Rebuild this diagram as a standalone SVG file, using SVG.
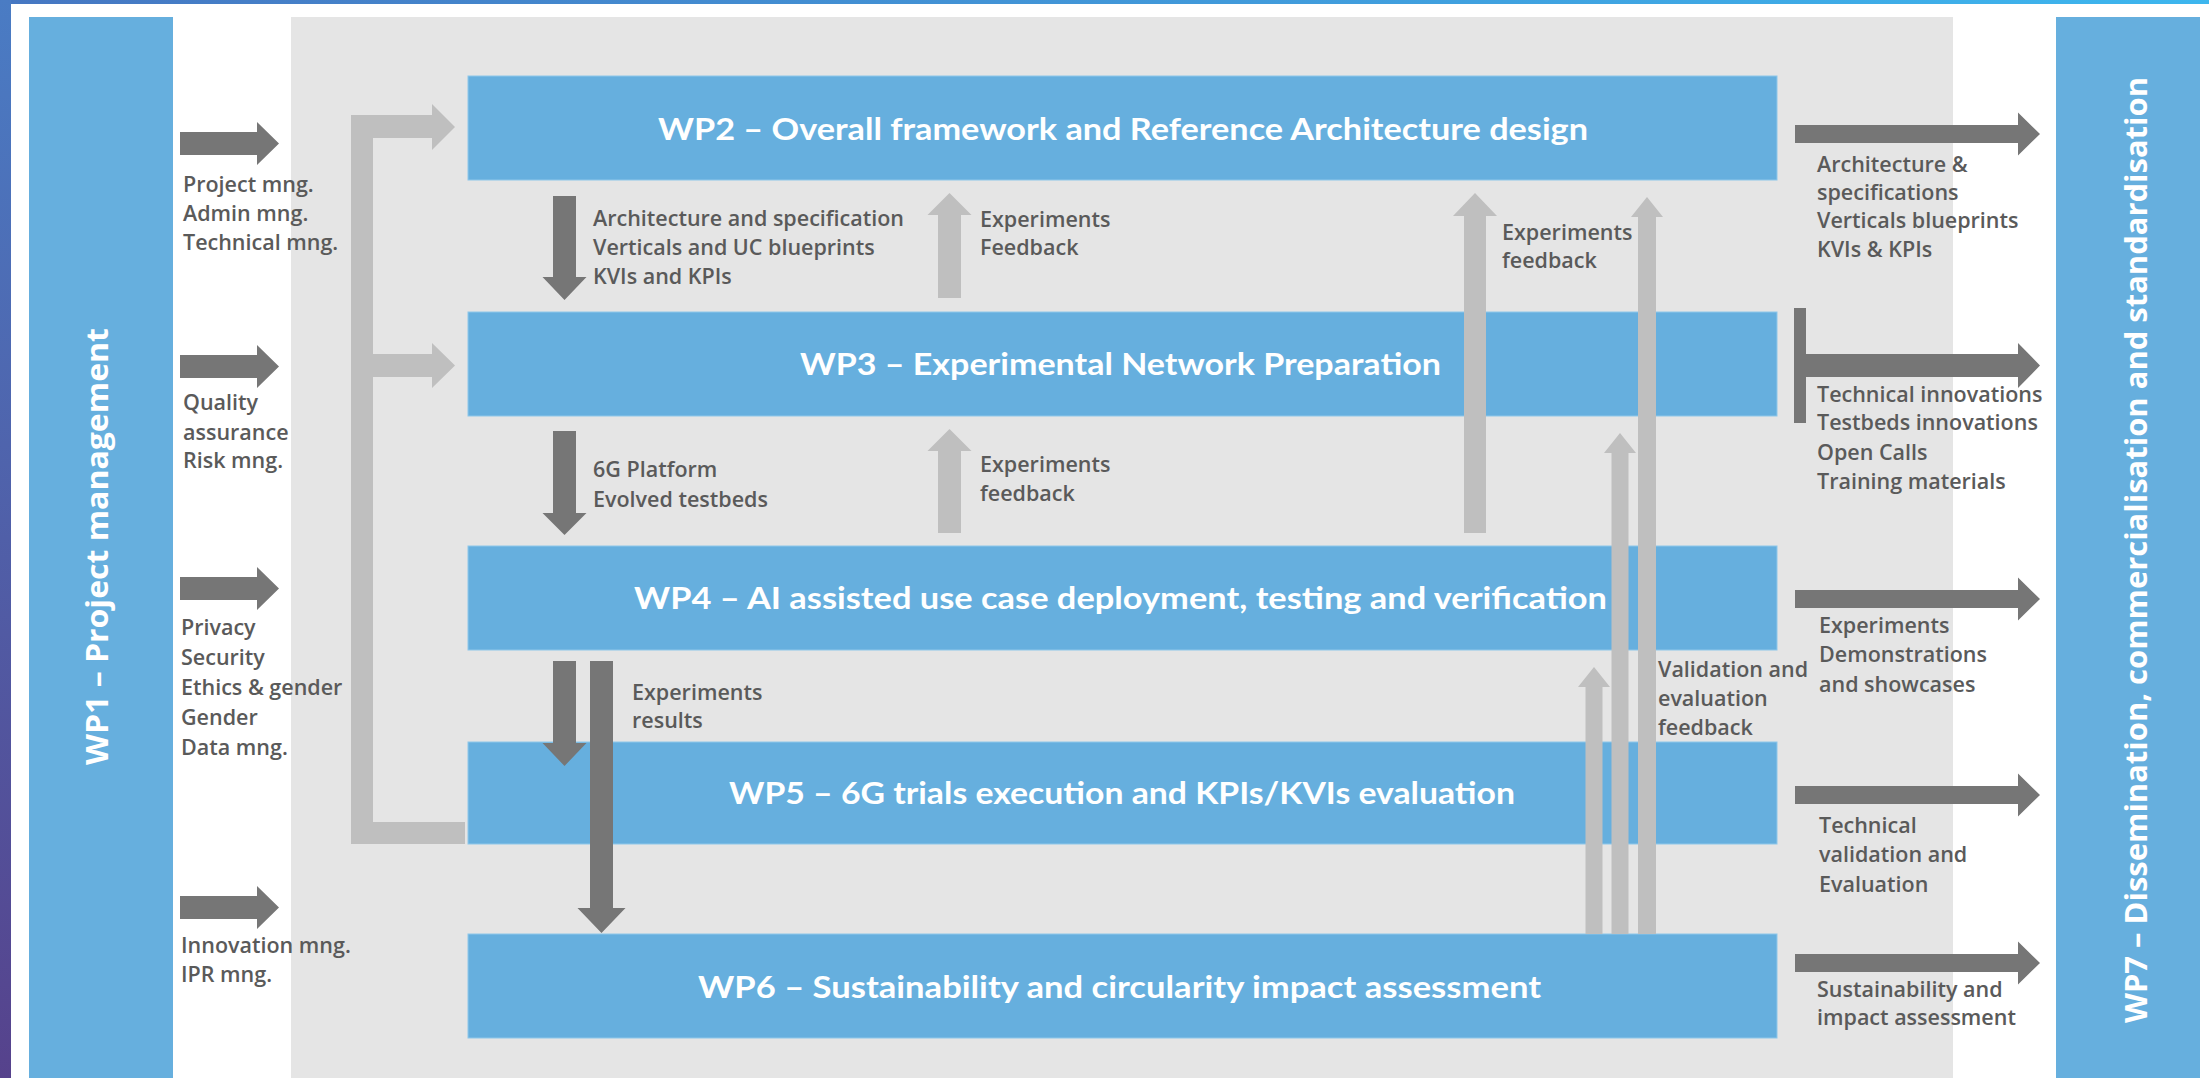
<svg xmlns="http://www.w3.org/2000/svg" width="2209" height="1078" viewBox="0 0 2209 1078">
<defs>
<linearGradient id="gTop" x1="0" y1="0" x2="1" y2="0">
<stop offset="0" stop-color="#4677c2"/>
<stop offset="1" stop-color="#3db6ee"/>
</linearGradient>
<linearGradient id="gLeft" x1="0" y1="0" x2="0" y2="1">
<stop offset="0" stop-color="#4a7cc4"/>
<stop offset="1" stop-color="#56428c"/>
</linearGradient>
<style>
.box{fill:#66afde;stroke:#8ec7ea;stroke-width:1}
.title{font-family:Lato,"Liberation Sans",sans-serif;font-weight:bold;font-size:30px;fill:#ffffff;text-anchor:middle}
.side{font-family:"Open Sans","Liberation Sans",sans-serif;font-weight:bold;font-size:30px;fill:#ffffff;text-anchor:middle}
.lbl{font-family:"Open Sans","Liberation Sans",sans-serif;font-size:21.5px;font-weight:600;fill:#5a5a5a}
.dark{fill:#767676}
.light{fill:#bfbfbf}
</style>
</defs>
<rect x="0" y="0" width="2209" height="1078" fill="#ffffff"/>
<rect x="0" y="0" width="2209" height="4" fill="url(#gTop)"/>
<rect x="0" y="0" width="11" height="1078" fill="url(#gLeft)"/>
<rect x="291" y="17" width="1662" height="1061" fill="#e5e5e5"/>

<g id="wp1">
<rect x="29" y="17" width="144" height="1061" fill="#66afde"/>
<text class="side" transform="translate(108,546.5) rotate(-90)" x="0" y="0" textLength="437" lengthAdjust="spacingAndGlyphs">WP1 – Project management</text>
</g>
<g id="wp7">
<rect x="2056" y="17" width="144" height="1061" fill="#66afde"/>
<text class="side" transform="translate(2147,550) rotate(-90)" x="0" y="0" textLength="946" lengthAdjust="spacingAndGlyphs">WP7 – Dissemination, commercialisation and standardisation</text>
</g>
<g id="wp2">
<rect class="box" x="468" y="76" width="1309" height="104"/>
<text class="title" x="1123" y="140" textLength="930" lengthAdjust="spacingAndGlyphs">WP2 – Overall framework and Reference Architecture design</text>
</g>
<g id="wp3">
<rect class="box" x="468" y="312" width="1309" height="104"/>
<text class="title" x="1120.5" y="375" textLength="641" lengthAdjust="spacingAndGlyphs">WP3 – Experimental Network Preparation</text>
</g>
<g id="wp4">
<rect class="box" x="468" y="546" width="1309" height="104"/>
<text class="title" x="1120.5" y="609" textLength="973" lengthAdjust="spacingAndGlyphs">WP4 – AI assisted use case deployment, testing and verification</text>
</g>
<g id="wp5">
<rect class="box" x="468" y="742" width="1309" height="102"/>
<text class="title" x="1122" y="804" textLength="786" lengthAdjust="spacingAndGlyphs">WP5 – 6G trials execution and KPIs/KVIs evaluation</text>
</g>
<g id="wp6">
<rect class="box" x="468" y="934" width="1309" height="104"/>
<text class="title" x="1119.5" y="998" textLength="843" lengthAdjust="spacingAndGlyphs">WP6 – Sustainability and circularity impact assessment</text>
</g>

<g id="connectors">
<polygon class="dark" points="180,132 257,132 257,122 279,143.5 257,165 257,155 180,155"/>
<polygon class="dark" points="180,355 257,355 257,345 279,366.5 257,388 257,378 180,378"/>
<polygon class="dark" points="180,577 257,577 257,567 279,588.5 257,610 257,600 180,600"/>
<polygon class="dark" points="180,896 257,896 257,886 279,907.5 257,929 257,919 180,919"/>
<path class="light" d="M351,115 H432 V104 L455,127 L432,150 V138 H373 V354 H432 V343 L455,365.5 L432,388 V377 H373 V822 H465 V844 H351 Z"/>
<polygon class="dark" points="553,196 576,196 576,277 586.5,277 564.5,300 542.5,277 553,277"/>
<polygon class="dark" points="553,431 576,431 576,513 586.5,513 564.5,535 542.5,513 553,513"/>
<polygon class="dark" points="553,661 576,661 576,743 586.5,743 564.5,766 542.5,743 553,743"/>
<polygon class="dark" points="590,661 613,661 613,908 625.5,908 601.5,933 577.5,908 590,908"/>
<polygon class="light" points="938,298 938,215 927.5,215 949.5,193 971.5,215 961,215 961,298"/>
<polygon class="light" points="938,533 938,451 927.5,451 949.5,429 971.5,451 961,451 961,533"/>
<polygon class="light" points="1464,533 1464,216 1453,216 1475,193 1497,216 1486,216 1486,533"/>
<polygon class="light" points="1638,934 1638,217 1631,217 1647,197 1663,217 1656,217 1656,934"/>
<polygon class="light" points="1611.5,934 1611.5,453 1604,453 1620,433 1636,453 1628.5,453 1628.5,934"/>
<polygon class="light" points="1585.5,934 1585.5,687 1578,687 1594,667 1610,687 1602.5,687 1602.5,934"/>
<polygon class="dark" points="1795,125 2018,125 2018,112.5 2040,134 2018,155.5 2018,143 1795,143"/>
<path class="dark" d="M1794,308 H1806 V354 H2018 V343 L2040,365.5 L2018,388 V377 H1806 V423 H1794 Z"/>
<polygon class="dark" points="1795,590 2018,590 2018,577.5 2040,599 2018,620.5 2018,608 1795,608"/>
<polygon class="dark" points="1795,786 2018,786 2018,773.5 2040,795 2018,816.5 2018,804 1795,804"/>
<polygon class="dark" points="1795,954 2018,954 2018,941.5 2040,963 2018,984.5 2018,972 1795,972"/>
</g>

<g id="labels">
<text class="lbl" x="183" y="192">Project mng.</text>
<text class="lbl" x="183" y="221">Admin mng.</text>
<text class="lbl" x="183" y="250">Technical mng.</text>
<text class="lbl" x="183" y="410">Quality</text>
<text class="lbl" x="183" y="440">assurance</text>
<text class="lbl" x="183" y="468">Risk mng.</text>
<text class="lbl" x="181" y="635">Privacy</text>
<text class="lbl" x="181" y="665">Security</text>
<text class="lbl" x="181" y="695">Ethics &amp; gender</text>
<text class="lbl" x="181" y="725">Gender</text>
<text class="lbl" x="181" y="755">Data mng.</text>
<text class="lbl" x="181" y="953">Innovation mng.</text>
<text class="lbl" x="181" y="982">IPR mng.</text>

<text class="lbl" x="593" y="226">Architecture and specification</text>
<text class="lbl" x="593" y="255">Verticals and UC blueprints</text>
<text class="lbl" x="593" y="284">KVIs and KPIs</text>
<text class="lbl" x="980" y="227">Experiments</text>
<text class="lbl" x="980" y="255">Feedback</text>
<text class="lbl" x="593" y="477">6G Platform</text>
<text class="lbl" x="593" y="507">Evolved testbeds</text>
<text class="lbl" x="980" y="472">Experiments</text>
<text class="lbl" x="980" y="501">feedback</text>
<text class="lbl" x="632" y="700">Experiments</text>
<text class="lbl" x="632" y="728">results</text>
<text class="lbl" x="1502" y="240">Experiments</text>
<text class="lbl" x="1502" y="268">feedback</text>
<text class="lbl" x="1658" y="677">Validation and</text>
<text class="lbl" x="1658" y="706">evaluation</text>
<text class="lbl" x="1658" y="735">feedback</text>

<text class="lbl" x="1817" y="172">Architecture &amp;</text>
<text class="lbl" x="1817" y="200">specifications</text>
<text class="lbl" x="1817" y="228">Verticals blueprints</text>
<text class="lbl" x="1817" y="257">KVIs &amp; KPIs</text>
<text class="lbl" x="1817" y="402">Technical innovations</text>
<text class="lbl" x="1817" y="430">Testbeds innovations</text>
<text class="lbl" x="1817" y="460">Open Calls</text>
<text class="lbl" x="1817" y="489">Training materials</text>
<text class="lbl" x="1819" y="633">Experiments</text>
<text class="lbl" x="1819" y="662">Demonstrations</text>
<text class="lbl" x="1819" y="692">and showcases</text>
<text class="lbl" x="1819" y="833">Technical</text>
<text class="lbl" x="1819" y="862">validation and</text>
<text class="lbl" x="1819" y="892">Evaluation</text>
<text class="lbl" x="1817" y="997">Sustainability and</text>
<text class="lbl" x="1817" y="1025">impact assessment</text>
</g>
</svg>
